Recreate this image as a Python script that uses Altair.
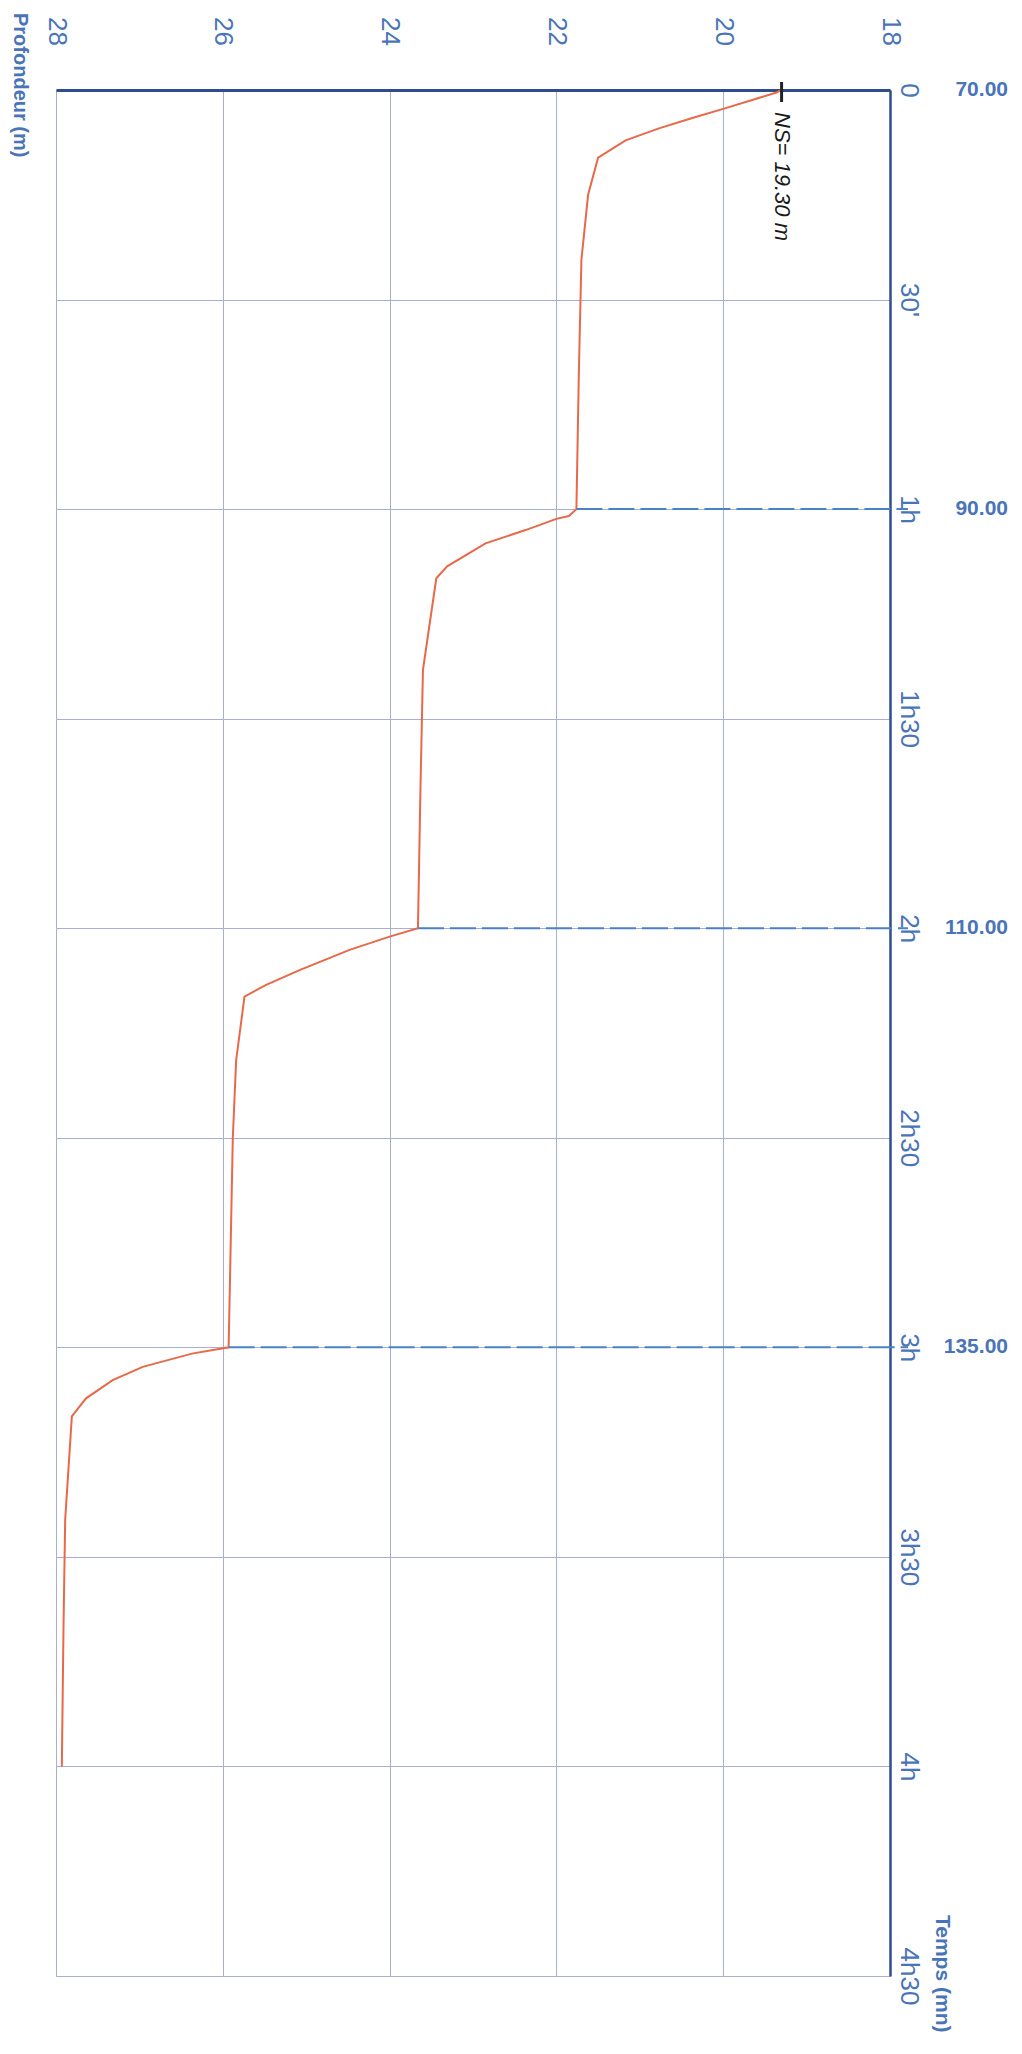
import json
import altair as alt
import pandas as pd

# ---- data ----
TIME = [0.0, 0.4, 2.7, 4.0, 5.5, 7.2, 9.7, 15.0, 24.3, 40.0, 60.0,
        61.0, 61.4, 63.0, 64.9, 68.2, 69.9, 83.0, 100.0, 120.0,
        121.2, 123.1, 126.0, 128.1, 129.8, 138.9, 150.0, 180.0,
        180.9, 182.8, 184.7, 187.3, 189.9, 204.7, 220.0, 240.0]
DEPTH = [19.30, 19.37, 20.00, 20.37, 20.77, 21.17, 21.50, 21.62, 21.70, 21.73, 21.76,
         21.85, 22.00, 22.37, 22.85, 23.31, 23.44, 23.60, 23.63, 23.66,
         24.00, 24.48, 25.08, 25.48, 25.74, 25.84, 25.88, 25.93,
         26.37, 26.96, 27.32, 27.64, 27.81, 27.89, 27.91, 27.93]

DEPTH_TICKS = [18, 20, 22, 24, 26, 28]
TIME_TICKS = [0, 30, 60, 90, 120, 150, 180, 210, 240, 270]
TIME_LABELS = ["0", "30'", "1h", "1h30", "2h", "2h30", "3h", "3h30", "4h", "4h30"]

STAGE_T = [0, 60, 120, 180]
STAGE_P = ["70.00", "90.00", "110.00", "135.00"]

STEP_T = [60, 120, 180]
STEP_D = [21.76, 23.66, 25.93]

NS_DEPTH = [19.30]
NS_LABEL = ["NS= 19.30 m"]

X_TITLE = ["Profondeur (m)"]
Y_TITLE = ["Temps (mn)"]

# ---- styling ----
W, H = 834, 1886
FONT = "Liberation Sans"
BLUE = "#4a74b8"
NAVY = "#2f4c8c"
GRID = "#a9aed4"

curve_df = pd.DataFrame({"time": TIME, "depth": DEPTH})
stage_df = pd.DataFrame({"time": STAGE_T, "label": STAGE_P})
step_df = pd.DataFrame({"time": STEP_T, "depth": STEP_D})
ns_df = pd.DataFrame({"depth": NS_DEPTH, "label": NS_LABEL})

x_scale = alt.Scale(domain=[18, 28], reverse=True, nice=False, zero=False)
y_scale = alt.Scale(domain=[0, 270], reverse=True, nice=False, zero=False)

x_axis = alt.Axis(orient="top", values=DEPTH_TICKS, title=None, grid=True,
                  gridColor=GRID, gridWidth=1, domainColor=NAVY, domainWidth=3,
                  ticks=False, tickSize=0, labelAngle=90, labelAlign="center",
                  labelBaseline="middle", labelPadding=59, labelFontSize=26,
                  labelFont=FONT, labelColor=BLUE, labelFlush=False,
                  labelOverlap=False, format="d")

label_expr = json.dumps(TIME_LABELS) + "[round(datum.value/30)]"
y_axis = alt.Axis(orient="right", values=TIME_TICKS, title=None, grid=True,
                  gridColor=GRID, gridWidth=1, domainColor=NAVY, domainWidth=2.5,
                  ticks=False, tickSize=0, labelAngle=90, labelAlign="center",
                  labelBaseline="alphabetic", labelPadding=10, labelFontSize=26,
                  labelFont=FONT, labelColor=BLUE, labelFlush=False,
                  labelOverlap=False, labelExpr=label_expr)

curve = alt.Chart(curve_df).mark_line(color="#e8694a", strokeWidth=2).encode(
    x=alt.X("depth:Q", scale=x_scale, axis=x_axis),
    y=alt.Y("time:Q", scale=y_scale, axis=y_axis),
    order="time:Q",
)

steps = alt.Chart(step_df).mark_rule(color="#4a82c4", strokeWidth=2, strokeDash=[26, 6]).encode(
    x=alt.X("depth:Q", scale=x_scale),
    x2=alt.value(W + 18),
    y=alt.Y("time:Q", scale=y_scale),
)

stage_labels = alt.Chart(stage_df).mark_text(
    align="right", baseline="middle", font=FONT, fontSize=21, fontWeight="bold", color=BLUE
).encode(
    y=alt.Y("time:Q", scale=y_scale),
    x=alt.value(952),
    text="label:N",
)

ns_tick = alt.Chart(ns_df).mark_rule(color="#222222", strokeWidth=3).encode(
    x=alt.X("depth:Q", scale=x_scale),
    y=alt.value(-8),
    y2=alt.value(12),
)

ns_text = alt.Chart(ns_df).mark_text(
    angle=90, align="left", baseline="middle", font=FONT, fontSize=22,
    fontStyle="italic", color="#1a1a1a"
).encode(
    x=alt.X("depth:Q", scale=x_scale),
    y=alt.value(22),
    text="label:N",
)

x_title = alt.Chart(pd.DataFrame({"t": X_TITLE})).mark_text(
    angle=90, align="left", baseline="alphabetic", font=FONT, fontSize=20,
    fontWeight="bold", color=BLUE
).encode(x=alt.value(-42), y=alt.value(-77), text="t:N")

y_title = alt.Chart(pd.DataFrame({"t": Y_TITLE})).mark_text(
    angle=90, align="left", baseline="alphabetic", font=FONT, fontSize=21,
    fontWeight="bold", color=BLUE
).encode(x=alt.value(880), y=alt.value(1825), text="t:N")

chart = alt.layer(curve, steps, stage_labels, ns_tick, ns_text, x_title, y_title).properties(
    width=W,
    height=H,
    autosize=alt.AutoSizeParams(type="none"),
    padding={"left": 48, "top": 82, "right": 124, "bottom": 64},
).configure_view(stroke=None).configure(background="white")

chart.save("out.html", embed_options={"renderer": "svg", "actions": False})
